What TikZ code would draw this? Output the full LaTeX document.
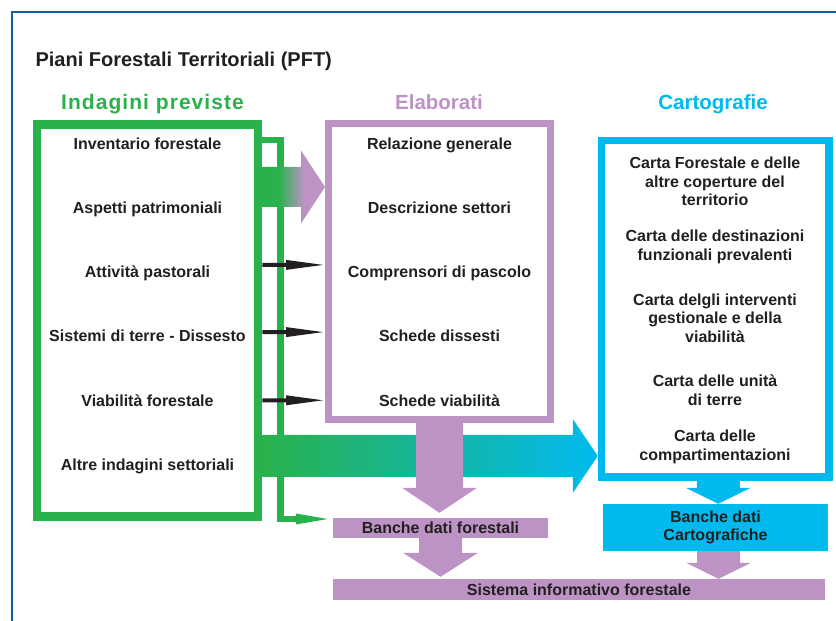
\documentclass[tikz,border=0pt]{standalone}
\usepackage{fontspec}
\setmainfont{Liberation Sans}
\usetikzlibrary{arrows.meta, positioning, calc}
\definecolor{pftgreen}{RGB}{41,178,76}
\definecolor{pftpurple}{RGB}{189,147,197}
\definecolor{pftcyan}{RGB}{0,186,239}
\definecolor{pftblue}{RGB}{20,92,165}
\definecolor{pfttext}{RGB}{35,31,32}
\pgfdeclarehorizontalshading{greenpurple}{100bp}{color(0bp)=(pftgreen); color(38bp)=(pftgreen); color(58bp)=(pftpurple); color(100bp)=(pftpurple)}
\tikzset{
	panel/.style={draw=#1, fill=white, inner sep=0pt},
	item/.style={font=\fontsize{16}{18.5}\selectfont\bfseries, text=pfttext, inner sep=0pt, outer sep=0pt, minimum height=64.2pt, text height=12pt, text depth=3.5pt},
	cartitem/.style={font=\fontsize{16}{18.5}\selectfont\bfseries, text=pfttext, inner sep=0pt, align=center},
	bank/.style={fill=#1, inner sep=0pt, align=center, font=\fontsize{16}{18.4}\selectfont\bfseries, text=pfttext},
	head/.style={font=\fontsize{20.5}{24}\selectfont\bfseries, text=#1, anchor=base},
	feed/.style={draw=pftgreen, line width=6.5pt, -{Triangle[length=32pt, width=11pt, line width=0pt]}},
	fatsize/.code n args={3}{\def\fatshaft{#1}\def\fathead{#2}\def\fatlen{#3}},
	hfat/.style={to path={let \p1=(\tikztostart), \p2=(\tikztotarget) in
		(\x1,\y1-\fatshaft) -- (\x2-\fatlen,\y1-\fatshaft) -- (\x2-\fatlen,\y1-\fathead) -- (\x2,\y1)
		-- (\x2-\fatlen,\y1+\fathead) -- (\x2-\fatlen,\y1+\fatshaft) -- (\x1,\y1+\fatshaft) -- cycle}},
	vfat/.style={to path={let \p1=(\tikztostart), \p2=(\tikztotarget) in
		(\x1-\fatshaft,\y1) -- (\x1-\fatshaft,\y2+\fatlen) -- (\x1-\fathead,\y2+\fatlen) -- (\x1,\y2)
		-- (\x1+\fathead,\y2+\fatlen) -- (\x1+\fatshaft,\y2+\fatlen) -- (\x1+\fatshaft,\y1) -- cycle}}
}
\begin{document}
\begin{tikzpicture}[x=1pt, y=1pt]
	\useasboundingbox (0,0) rectangle (836,621);
	
	% --- Frame and title ---
	\draw[pftblue, line width=2.5pt] (840,609) -- (12,609) -- (12,-4);
	\node[anchor=base west, font=\fontsize{20}{24}\selectfont\bfseries, text=pfttext] (title) at (32,554.5) {Piani Forestali Territoriali (PFT)};
	
	% --- Headings ---
	\node[head=pftgreen, font=\fontsize{21}{24}\selectfont\bfseries\addfontfeatures{LetterSpace=5}] (h_ind) at (152.5,511) {Indagini previste};
	\node[head=pftpurple] (h_ela) at (439,511) {Elaborati};
	\node[head=pftcyan] (h_car) at (713,511) {Cartografie};
	
	% --- Panels ---
	\node[panel=pftgreen, line width=8.5pt, minimum width=221pt, minimum height=392pt] (ind) at (147.5,300.5) {};
	\node[panel=pftpurple, line width=7pt, minimum width=222pt, minimum height=296pt] (ela) at (439.5,349.5) {};
	\node[panel=pftcyan, line width=7.5pt, minimum width=227.5pt, minimum height=336.5pt] (car) at (715.25,312.25) {};
	
	% --- Indagini previste ---
	\node[item] (ind1) at (147.5,476) {Inventario forestale};
	\node[item, below=0pt of ind1] (ind2) {Aspetti patrimoniali};
	\node[item, below=0pt of ind2] (ind3) {Attività pastorali};
	\node[item, below=0pt of ind3] (ind4) {Sistemi di terre - Dissesto};
	\node[item, below=0pt of ind4] (ind5) {Viabilità forestale};
	\node[item, below=0pt of ind5] (ind6) {Altre indagini settoriali};
	
	% --- Elaborati ---
	\node[item] (ela1) at (ela.center |- ind1) {Relazione generale};
	\node[item, below=0pt of ela1] (ela2) {Descrizione settori};
	\node[item, below=0pt of ela2] (ela3) {Comprensori di pascolo};
	\node[item, below=0pt of ela3] (ela4) {Schede dissesti};
	\node[item, below=0pt of ela4] (ela5) {Schede viabilità};
	
	% --- Cartografie ---
	\node[cartitem] (car1) at (715,439.5) {Carta Forestale e delle\\altre coperture del\\territorio};
	\node[cartitem] (car2) at (715,374) {Carta delle destinazioni\\funzionali prevalenti};
	\node[cartitem] (car3) at (715,303) {Carta delgli interventi\\gestionale e della\\viabilità};
	\node[cartitem] (car4) at (715,231) {Carta delle unità\\di terre};
	\node[cartitem] (car5) at (715,174) {Carta delle\\compartimentazioni};
	
	% --- Data banks ---
	\node[bank=pftpurple, minimum width=215pt, minimum height=20pt] (bdf) at (440.5,93) {Banche dati forestali};
	\node[bank=pftcyan, minimum width=225pt, minimum height=47pt] (bcart) at (715.5,93.5) {Banche dati\\Cartografiche};
	\node[bank=pftpurple, minimum width=492pt, minimum height=21pt] (sif) at (579,31.5) {Sistema informativo forestale};
	
	% --- Connections ---
	\draw[feed] ([yshift=-20pt]ind.north east) -- ++(18.25,0) |- ([shift={(-5pt,9pt)}]bdf.west);
	\fill[pfttext, fatsize={2pt}{5pt}{37pt}, hfat] ([yshift=8.5pt]ind.east |- ind3) to ([xshift=-2pt]ela.west |- ind3);
	\fill[pfttext, fatsize={2pt}{5pt}{37pt}, hfat] ([yshift=5.5pt]ind.east |- ind4) to ([xshift=-2pt]ela.west |- ind4);
	\fill[pfttext, fatsize={2pt}{5pt}{37pt}, hfat] ([yshift=1.5pt]ind.east |- ind5) to ([xshift=-2pt]ela.west |- ind5);
	\shade[shading=greenpurple, fatsize={20pt}{36.5pt}{24pt}, hfat] ([yshift=133.5pt]ind.east) to ([yshift=133.5pt]ela.west);
	\shade[left color=pftgreen, right color=pftcyan, fatsize={21pt}{37pt}{25pt}, hfat] ([yshift=-135.5pt]ind.east) to ([yshift=-135.5pt]car.west);
	\fill[pftpurple, fatsize={23.5pt}{37.5pt}{25pt}, vfat] (ela.south) to ([yshift=5pt]bdf.north);
	\fill[pftpurple, fatsize={21.5pt}{37.5pt}{24pt}, vfat] (bdf.south) to ([yshift=2pt]sif.north);
	\fill[pftcyan, fatsize={21.5pt}{32.5pt}{16pt}, vfat] ([xshift=3pt]car.south) to ([xshift=3pt]bcart.north);
	\fill[pftpurple, fatsize={21.5pt}{32.5pt}{16pt}, vfat] ([xshift=3pt]bcart.south) to ([xshift=3pt]sif.north);
	
\end{tikzpicture}
\end{document}
